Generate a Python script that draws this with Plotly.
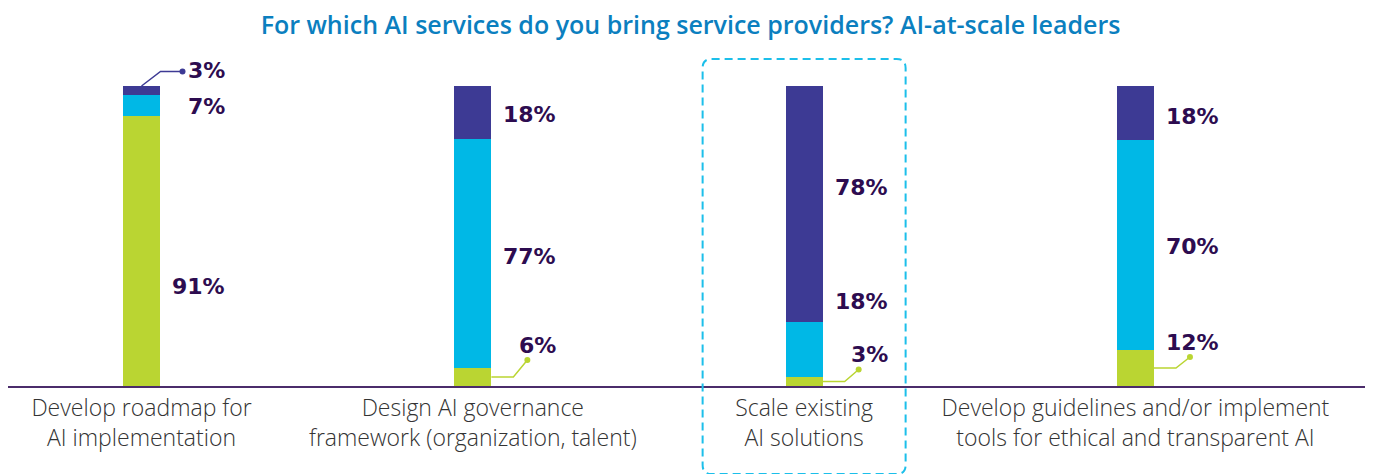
import plotly.graph_objects as go

# ---- data ----
categories = [
    "Develop roadmap for<br>AI implementation",
    "Design AI governance<br>framework (organization, talent)",
    "Scale existing<br>AI solutions",
    "Develop guidelines and/or implement<br>tools for ethical and transparent AI",
]
green_vals = [91, 6, 3, 12]
cyan_vals = [7, 77, 18, 70]
navy_vals = [3, 18, 78, 18]
series_names = ["Series A", "Series B", "Series C"]
highlight_index = 2

# ---- style / layout ----
COL_GREEN = "#bad532"
COL_CYAN = "#00b8e6"
COL_NAVY = "#3d3a94"
COL_LABEL = "#2d0c50"
COL_TITLE = "#0b7fbf"
COL_AXIS = "#4b2c6b"
W, H = 1365, 466          # page body has an 8px margin
ML, MR, MT, MB = 0, 6, 42, 88
XRANGE = [-0.403, 3.699]
YRANGE = [0, 112]
BAR_W = 0.112
XPX = (W - ML - MR) / (XRANGE[1] - XRANGE[0])   # px per x unit
YPX = (H - MT - MB) / (YRANGE[1] - YRANGE[0])   # px per y unit

# label vertical nudges in px (positive = up), per bar: (green, cyan, navy)
nudges = [(-36, -1, 20), (32, -3, -2), (27, 48, 17), (26, -1, -3)]
# which segments get a leader line
leader = [(False, False, True), (True, False, False), (True, False, False), (True, False, False)]

xs = list(range(len(categories)))
totals = [g + c + n for g, c, n in zip(green_vals, cyan_vals, navy_vals)]
norm = lambda v, t: v / t * 100
g_h = [norm(v, t) for v, t in zip(green_vals, totals)]
c_h = [norm(v, t) for v, t in zip(cyan_vals, totals)]
n_h = [norm(v, t) for v, t in zip(navy_vals, totals)]

fig = go.Figure()
for name, hs, raw, col in [(series_names[0], g_h, green_vals, COL_GREEN),
                           (series_names[1], c_h, cyan_vals, COL_CYAN),
                           (series_names[2], n_h, navy_vals, COL_NAVY)]:
    fig.add_trace(go.Bar(x=xs, y=hs, width=BAR_W, marker=dict(color=col, line=dict(width=0)),
                         name=name, customdata=raw, hovertemplate="%{customdata}%<extra></extra>"))

shapes = []
annotations = []
dot_x, dot_y, dot_c = [], [], []
for i in xs:
    segs = [(g_h[i], green_vals[i], COL_GREEN), (c_h[i], cyan_vals[i], COL_CYAN), (n_h[i], navy_vals[i], COL_NAVY)]
    base = 0
    right = i + BAR_W / 2
    for k, (h, raw, col) in enumerate(segs):
        center = base + h / 2
        label_y = center + nudges[i][k] / YPX
        annotations.append(dict(x=right, y=label_y, xref="x", yref="y", text=f"<b>{raw}%</b>",
                                showarrow=False, xanchor="right", yanchor="middle", xshift=67,
                                font=dict(family="DejaVu Sans", size=22, color=COL_LABEL)))
        if leader[i][k]:
            if k == 0:
                x1 = right + 22 / XPX
                x2 = right + 36 / XPX
                y2 = label_y - 15 / YPX
                path = f"M {right},{center} L {x1},{center} L {x2},{y2}"
                dot_x.append(x2); dot_y.append(y2); dot_c.append(col)
            else:
                top = base + h
                xa = i
                xb = i + 19 / XPX
                yb = label_y - 1 / YPX
                xc = i + 41 / XPX
                path = f"M {xa},{top} L {xb},{yb} L {xc},{yb}"
                dot_x.append(xc); dot_y.append(yb); dot_c.append(col)
            shapes.append(dict(type="path", path=path, xref="x", yref="y",
                               line=dict(color=col, width=1.5), layer="above"))
        base += h

fig.add_trace(go.Scatter(x=dot_x, y=dot_y, mode="markers", marker=dict(color=dot_c, size=6),
                         hoverinfo="skip", showlegend=False))

# dashed rounded highlight box around the highlighted category
PH = H - MT - MB
bx0 = highlight_index - 101.5 / XPX
bx1 = highlight_index + 101.5 / XPX
by1 = 1 - 9 / PH
by0 = -88 / PH
rx = 9 / XPX
ry = 9 / PH
box = (f"M {bx0+rx},{by1} L {bx1-rx},{by1} Q {bx1},{by1} {bx1},{by1-ry} "
       f"L {bx1},{by0+ry} Q {bx1},{by0} {bx1-rx},{by0} L {bx0+rx},{by0} "
       f"Q {bx0},{by0} {bx0},{by0+ry} L {bx0},{by1-ry} Q {bx0},{by1} {bx0+rx},{by1} Z")
shapes.append(dict(type="path", path=box, xref="x", yref="paper",
                   line=dict(color="#1cbfea", width=2, dash="8px,5px"), layer="above"))

fig.update_layout(
    width=W, height=H,
    margin=dict(l=ML, r=MR, t=MT, b=MB),
    barmode="stack",
    showlegend=False,
    plot_bgcolor="white", paper_bgcolor="white",
    title=dict(text="For which AI services do you bring service providers? AI-at-scale leaders",
               x=0.5, xanchor="center", y=1 - 17 / H, yanchor="middle", yref="container",
               font=dict(family="Open Sans", size=25, color=COL_TITLE, weight=600)),
    shapes=shapes,
    annotations=annotations,
    xaxis=dict(range=XRANGE, tickvals=xs, ticktext=categories, showgrid=False, zeroline=False,
               showline=True, linecolor=COL_AXIS, linewidth=2, ticks="",
               tickfont=dict(family="Open Sans", size=23, color="#333333", weight=300),
               fixedrange=True),
    yaxis=dict(range=YRANGE, visible=False, showgrid=False, zeroline=False, fixedrange=True),
)

fig.write_html("out.html")
